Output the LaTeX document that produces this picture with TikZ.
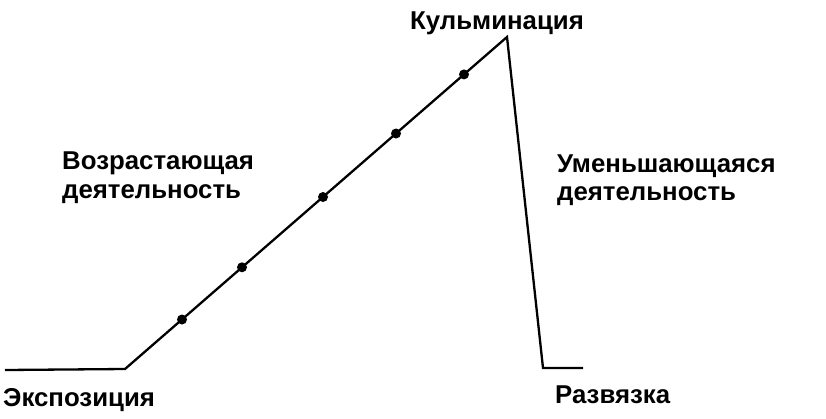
\documentclass[tikz,border=0pt]{standalone}
\usepackage{fontspec}
\setmainfont{Liberation Sans}
\begin{document}
\begin{tikzpicture}[x=1pt,y=-1pt,
  lbl/.style={anchor=base west,inner sep=0pt,font=\fontsize{25.8}{30}\selectfont\bfseries},
  plotline/.style={line width=2.3pt,line join=miter},
  dot/.style={circle,fill=black,inner sep=0pt,minimum size=10pt}]
\useasboundingbox (0,0) rectangle (826,418);
\coordinate (s) at (5,370);
\coordinate (c) at (125,369);
\coordinate (p) at (507,37);
\coordinate (b) at (543,368);
\coordinate (e) at (583,368);
\draw[plotline] (s) -- (c) -- (p) -- (b) -- (e);
\node[dot] (d1) at (182,319.5) {};
\node[dot] (d2) at (242,267.3) {};
\node[dot] (d3) at (323,197) {};
\node[dot] (d4) at (396,133.5) {};
\node[dot] (d5) at (464,74.4) {};
\node[lbl] (kul) at (410,29) {Кульминация};
\node[lbl] (voz1) at (62,169) {Возрастающая};
\node[lbl] (voz2) at (62,198) {деятельность};
\node[lbl] (um1) at (557,172) {Уменьшающаяся};
\node[lbl] (um2) at (557,200) {деятельность};
\node[lbl] (eks) at (3,406) {Экспозиция};
\node[lbl] (raz) at (555,403) {Развязка};
\end{tikzpicture}
\end{document}
